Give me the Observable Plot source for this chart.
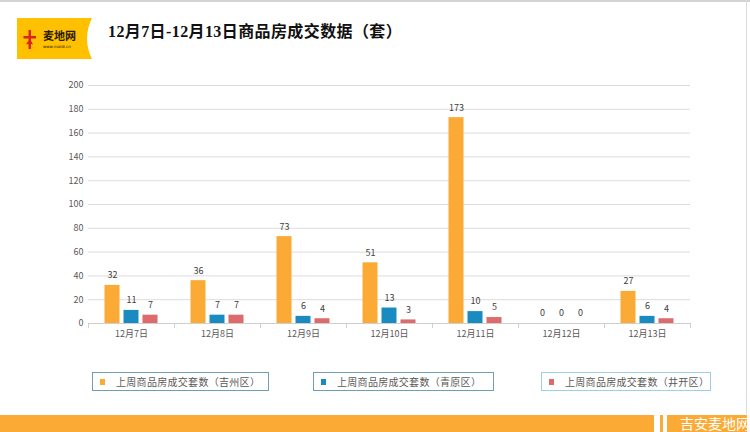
<!DOCTYPE html>
<html>
<head>
<meta charset="utf-8">
<script src="https://cdn.jsdelivr.net/npm/d3@7"></script>
<script src="https://cdn.jsdelivr.net/npm/@observablehq/plot@0.6"></script>
<style>
  html, body { margin: 0; padding: 0; background: #fff; }
  body { width: 750px; height: 432px; position: relative; overflow: hidden; font-family: "Noto Sans CJK SC", "Noto Sans", sans-serif; }
  .abs { position: absolute; }
  #title { left: 108px; top: 20px; font-size: 16px; font-weight: 700; color: #111; font-family: "Liberation Serif", "Noto Sans CJK SC", serif; letter-spacing: 0.4px; white-space: nowrap; line-height: 24px; }
  #chart { left: 0; top: 70px; }
  .legend { top: 372px; height: 19px; border: 1px solid #6e9fb5; box-sizing: border-box; font-size: 10px; color: #595959; line-height: 17px; white-space: nowrap; }
  .legend .sw { position: absolute; left: 7px; top: 6px; width: 5px; height: 6px; }
  .legend .tx { position: absolute; left: 23px; top: 0; letter-spacing: 0.3px; }
</style>
</head>
<body>
<div class="abs" style="left:0;top:0;width:750px;height:2px;background:#d4d4d4"></div>
<div class="abs" style="left:746px;top:0;width:1px;height:414px;background:#dcdcdc"></div>

<svg class="abs" style="left:0;top:0" width="100" height="65">
  <path d="M17,18 H92 Q82,38.5 92,59 H17 Z" fill="#ffc000"/>
  <path d="M28.5,30 h2.5 v6 h5 v2.5 h-5 v2 l2,4 l-2,-0.5 v5 h-2.5 v-5 l-2.5,0.5 l2.5,-4 v-2 h-5 v-2.5 h5 z" fill="#d8261c"/>
  <text x="43" y="40" font-size="11" font-weight="700" fill="#2a1a00" font-family="Noto Sans CJK SC">麦地网</text>
  <text x="43" y="48" font-size="4" fill="#2a1a00" font-family="DejaVu Sans">www.maidi.cn</text>
</svg>

<div id="title" class="abs">12月7日-12月13日商品房成交数据（套）</div>
<div id="chart" class="abs"></div>
<div id="legend"></div>

<div class="abs" style="left:0;top:415px;width:654px;height:17px;background:#fbab35"></div>
<div class="abs" style="left:660px;top:415px;width:3px;height:17px;background:#fbab35"></div>
<div class="abs" style="left:667px;top:415px;width:80px;height:17px;background:#fbab35"></div>
<div class="abs" style="left:680px;top:413px;font-size:14px;line-height:20px;color:#fff;white-space:nowrap">吉安麦地网</div>

<script>
// ---- data ----
const dates = ["12月7日", "12月8日", "12月9日", "12月10日", "12月11日", "12月12日", "12月13日"];
const jizhou = [32, 36, 73, 51, 173, 0, 27];
const qingyuan = [11, 7, 6, 13, 10, 0, 6];
const jingkai = [7, 7, 4, 3, 5, 0, 4];
const seriesNames = ["上周商品房成交套数（吉州区）", "上周商品房成交套数（青原区）", "上周商品房成交套数（井开区）"];
const colors = ["#fbab35", "#1a8bc0", "#dd6b6b"];
const yTicks = [0, 20, 40, 60, 80, 100, 120, 140, 160, 180, 200];

const seriesValues = [jizhou, qingyuan, jingkai];
const rows = [];
seriesNames.forEach((s, si) => dates.forEach((d, i) => rows.push({date: d, series: s, si, value: seriesValues[si][i]})));

const width = 750, mL = 88, mR = 60;
const step = (width - mL - mR) / dates.length;  // band width per category
const barW = 15, gap = 4;
const groupW = 3 * barW + 2 * gap;
const startOff = (step - groupW) / 2;

const marks = [
  Plot.ruleY(yTicks.filter(d => d > 0), {stroke: "#dcdcdc", strokeWidth: 1}),
  Plot.ruleY([0], {stroke: "#cfcfcf"}),
  Plot.ruleX(dates, {x: d => d, dx: -step / 2, y1: 0, y2: 0, insetBottom: -5, stroke: "#cfcfcf"}),
  Plot.ruleX([dates[dates.length - 1]], {x: d => d, dx: step / 2, y1: 0, y2: 0, insetBottom: -5, stroke: "#cfcfcf"})
];
seriesNames.forEach((s, si) => {
  const data = rows.filter(r => r.si === si);
  const left = startOff + si * (barW + gap);
  const right = step - left - barW;
  marks.push(Plot.barY(data, {x: "date", y: "value", fill: colors[si], insetLeft: left, insetRight: right}));
  marks.push(Plot.text(data, {x: "date", y: "value", text: d => String(d.value), dx: left + barW / 2 - step / 2, dy: -10, fill: "#404040", fontSize: 9}));
});

const chart = Plot.plot({
  width, height: 278,
  marginLeft: mL, marginRight: mR, marginTop: 15, marginBottom: 25,
  x: {domain: dates, padding: 0, tickSize: 0, tickPadding: 7, label: null},
  y: {domain: [0, 200], ticks: yTicks, tickSize: 0, tickPadding: 5, label: null},
  style: {fontFamily: "'Noto Sans CJK SC', 'Noto Sans', sans-serif", fontSize: "9px", color: "#595959", background: "transparent"},
  marks
});
document.getElementById("chart").appendChild(chart);

// legend
const legendBoxes = [{left: 92, w: 177, border: "#6e9fb5"}, {left: 313, w: 181, border: "#6e9fb5"}, {left: 541, w: 170, border: "#9dd0e6"}];
const lg = document.getElementById("legend");
seriesNames.forEach((s, i) => {
  const b = document.createElement("div");
  b.className = "abs legend";
  b.style.left = legendBoxes[i].left + "px";
  b.style.width = legendBoxes[i].w + "px";
  b.style.borderColor = legendBoxes[i].border;
  b.innerHTML = `<span class="sw" style="background:${colors[i]}"></span><span class="tx">${s}</span>`;
  lg.appendChild(b);
});
</script>
</body>
</html>
